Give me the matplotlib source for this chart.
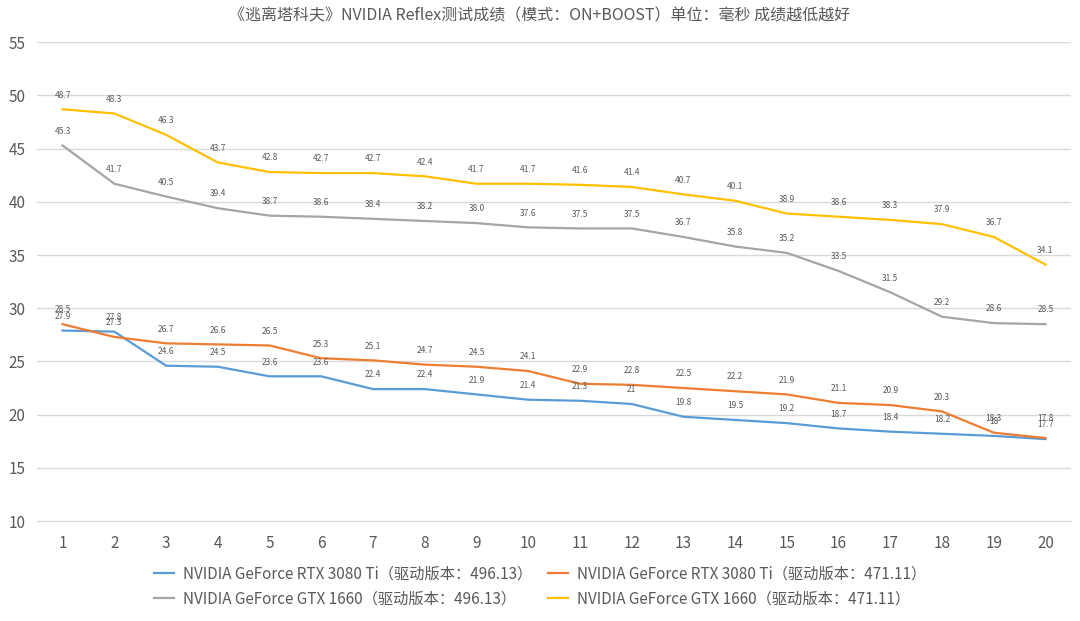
import numpy as np
import matplotlib
matplotlib.use("Agg")
import matplotlib.pyplot as plt

plt.rcParams['font.family'] = ['Noto Sans CJK SC', 'DejaVu Sans']

# data
runs = list(range(1, 21))
rtx_496 = [27.9, 27.8, 24.6, 24.5, 23.6, 23.6, 22.4, 22.4, 21.9, 21.4,
           21.3, 21, 19.8, 19.5, 19.2, 18.7, 18.4, 18.2, 18, 17.7]
rtx_471 = [28.5, 27.3, 26.7, 26.6, 26.5, 25.3, 25.1, 24.7, 24.5, 24.1,
           22.9, 22.8, 22.5, 22.2, 21.9, 21.1, 20.9, 20.3, 18.3, 17.8]
gtx_496 = [45.3, 41.7, 40.5, 39.4, 38.7, 38.6, 38.4, 38.2, 38.0, 37.6,
           37.5, 37.5, 36.7, 35.8, 35.2, 33.5, 31.5, 29.2, 28.6, 28.5]
gtx_471 = [48.7, 48.3, 46.3, 43.7, 42.8, 42.7, 42.7, 42.4, 41.7, 41.7,
           41.6, 41.4, 40.7, 40.1, 38.9, 38.6, 38.3, 37.9, 36.7, 34.1]

series = [
    ("NVIDIA GeForce RTX 3080 Ti（驱动版本：496.13）", rtx_496, "#5b9bd5", False),
    ("NVIDIA GeForce RTX 3080 Ti（驱动版本：471.11）", rtx_471, "#ed7d31", False),
    ("NVIDIA GeForce GTX 1660（驱动版本：496.13）", gtx_496, "#a5a5a5", True),
    ("NVIDIA GeForce GTX 1660（驱动版本：471.11）", gtx_471, "#ffc000", False),
]

fig = plt.figure(figsize=(10.8, 6.21), dpi=100)
ax = fig.add_axes([0.034, 0.161, 0.958, 0.771])

handles = []
for k, (name, vals, col, onedec) in enumerate(series):
    h, = ax.plot(runs, vals, color=col, lw=1.6, label=name)
    handles.append(h)
    for x, v in zip(runs, vals):
        txt = f"{v:.1f}" if onedec else f"{v:g}"
        dy = 7
        # crowded spots at the right end, nudge the orange labels up a little
        if k == 1 and x == 20:
            dy = 11
        ax.annotate(txt, (x, v), xytext=(0, dy), textcoords="offset points",
                    ha="center", va="bottom", fontsize=6, color="#595959")

ax.set_xlim(0.5, 20.5)
ax.set_ylim(10, 55)
ax.set_yticks(np.arange(10, 56, 5))
ax.set_xticks(runs)
ax.grid(axis="y", color="#d9d9d9", lw=1)
ax.set_axisbelow(True)
for s in ["top", "right", "left"]:
    ax.spines[s].set_visible(False)
ax.spines["bottom"].set_color("#d9d9d9")
ax.tick_params(length=0, labelsize=11, labelcolor="#595959")
ax.tick_params(axis="y", pad=8)
ax.tick_params(axis="x", pad=10)

fig.text(0.5, 0.975, "《逃离塔科夫》NVIDIA Reflex测试成绩（模式：ON+BOOST）单位：毫秒 成绩越低越好",
         ha="center", va="center", fontsize=11.5, color="#595959")

fig.legend([handles[0], handles[2], handles[1], handles[3]],
           [series[0][0], series[2][0], series[1][0], series[3][0]],
           loc="lower center", bbox_to_anchor=(0.5, 0.0), ncol=2, frameon=False,
           fontsize=11, labelcolor="#595959", handlelength=1.3, handletextpad=0.6,
           columnspacing=1.0, labelspacing=0.5)

fig.savefig("out.png", dpi=100)
